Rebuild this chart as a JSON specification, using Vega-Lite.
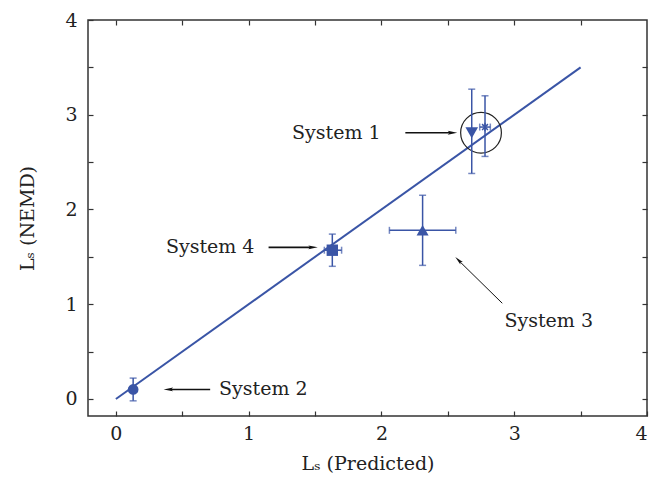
{
  "$schema": "https://vega.github.io/schema/vega-lite/v6.json",
  "width": 559,
  "height": 396,
  "autosize": {"type": "none"},
  "padding": {"left": 88, "top": 20, "right": 3, "bottom": 63},
  "background": "white",
  "config": {
    "view": {"stroke": "#333", "strokeWidth": 1.5},
    "axis": {
      "domain": false,
      "grid": false,
      "tickColor": "#333",
      "tickSize": -5,
      "tickWidth": 1.2,
      "labelFont": "DejaVu Serif",
      "labelFontSize": 19,
      "labelColor": "#222",
      "titleFont": "DejaVu Serif",
      "titleFontSize": 19,
      "titleFontWeight": "normal",
      "titleColor": "#222"
    },
    "text": {"font": "DejaVu Serif", "fontSize": 19, "color": "#222"}
  },
  "resolve": {"axis": {"x": "independent", "y": "independent"}},
  "layer": [
    {
      "data": {"values": [{"x": 0, "y": 0}, {"x": 3.5, "y": 3.5}]},
      "mark": {"type": "line", "color": "#3a55a6", "strokeWidth": 2},
      "encoding": {
        "x": {"field": "x", "type": "quantitative", "scale": {"domain": [-0.21, 4], "nice": false, "zero": false},
          "axis": {"orient": "bottom", "title": "Lₛ (Predicted)", "values": [0, 0.5, 1, 1.5, 2, 2.5, 3, 3.5, 4], "labelExpr": "datum.value % 1 === 0 ? format(datum.value, 'd') : ''", "labelPadding": 13, "titlePadding": 11}},
        "y": {"field": "y", "type": "quantitative", "scale": {"domain": [-0.18, 4], "nice": false, "zero": false},
          "axis": {"orient": "left", "title": "Lₛ (NEMD)", "values": [0, 0.5, 1, 1.5, 2, 2.5, 3, 3.5, 4], "labelExpr": "datum.value % 1 === 0 ? format(datum.value, 'd') : ''", "labelPadding": 16, "titlePadding": 27}}
      }
    },
    {
      "data": {"values": [{"system": "System 1", "x": 2.75, "y": 2.81}]},
      "mark": {"type": "point", "shape": "circle", "filled": false, "stroke": "#222", "strokeWidth": 1.2, "size": 1660, "opacity": 1},
      "encoding": {
        "x": {"field": "x", "type": "quantitative",
          "axis": {"orient": "top", "title": null, "labels": false, "values": [0, 0.5, 1, 1.5, 2, 2.5, 3, 3.5]}},
        "y": {"field": "y", "type": "quantitative",
          "axis": {"orient": "right", "title": null, "labels": false, "values": [0, 0.5, 1, 1.5, 2, 2.5, 3, 3.5]}}
      }
    },
    {
      "data": {"name": "pts", "values": [
        {"system": "System 2", "x": 0.13, "y": 0.10, "ylo": -0.02, "yhi": 0.22},
        {"system": "System 4", "x": 1.63, "y": 1.57, "ylo": 1.40, "yhi": 1.74, "xlo": 1.57, "xhi": 1.70},
        {"system": "System 3", "x": 2.31, "y": 1.78, "ylo": 1.41, "yhi": 2.15, "xlo": 2.06, "xhi": 2.56},
        {"system": "System 1a", "x": 2.68, "y": 2.81, "ylo": 2.38, "yhi": 3.27},
        {"system": "System 1b", "x": 2.78, "y": 2.87, "ylo": 2.56, "yhi": 3.20, "xlo": 2.74, "xhi": 2.82}
      ]},
      "layer": [
        {
          "mark": {"type": "rule", "color": "#3a55a6", "strokeWidth": 1.5},
          "encoding": {
            "x": {"field": "x", "type": "quantitative", "axis": null},
            "y": {"field": "ylo", "type": "quantitative", "axis": null},
            "y2": {"field": "yhi"}
          }
        },
        {
          "transform": [{"filter": "isValid(datum.xlo)"}],
          "mark": {"type": "rule", "color": "#3a55a6", "strokeWidth": 1.5},
          "encoding": {
            "x": {"field": "xlo", "type": "quantitative", "axis": null},
            "x2": {"field": "xhi"},
            "y": {"field": "y", "type": "quantitative", "axis": null}
          }
        },
        {
          "transform": [{"fold": ["ylo", "yhi"], "as": ["k", "v"]}],
          "mark": {"type": "tick", "orient": "horizontal", "color": "#3a55a6", "size": 7, "thickness": 1.5},
          "encoding": {
            "x": {"field": "x", "type": "quantitative", "axis": null},
            "y": {"field": "v", "type": "quantitative", "axis": null}
          }
        },
        {
          "transform": [{"filter": "isValid(datum.xlo)"}, {"fold": ["xlo", "xhi"], "as": ["k", "v"]}],
          "mark": {"type": "tick", "orient": "vertical", "color": "#3a55a6", "size": 7, "thickness": 1.5},
          "encoding": {
            "x": {"field": "v", "type": "quantitative", "axis": null},
            "y": {"field": "y", "type": "quantitative", "axis": null}
          }
        },
        {
          "transform": [{"filter": "datum.system !== 'System 1b'"}],
          "mark": {"type": "point", "filled": true, "color": "#3a55a6", "opacity": 1},
          "encoding": {
            "x": {"field": "x", "type": "quantitative", "axis": null},
            "y": {"field": "y", "type": "quantitative", "axis": null},
            "shape": {"field": "system", "type": "nominal", "legend": null,
              "scale": {"domain": ["System 2", "System 4", "System 3", "System 1a"], "range": ["circle", "square", "triangle-up", "triangle-down"]}},
            "size": {"field": "system", "type": "nominal", "legend": null,
              "scale": {"domain": ["System 2", "System 4", "System 3", "System 1a"], "range": [115, 160, 110, 100]}}
          }
        },
        {
          "transform": [{"filter": "datum.system === 'System 1b'"}],
          "mark": {"type": "point", "filled": false, "color": "#3a55a6", "strokeWidth": 1.5, "size": 70, "opacity": 1,
            "shape": "M-0.7,-0.7L0.7,0.7M-0.7,0.7L0.7,-0.7M0,-1L0,1"},
          "encoding": {
            "x": {"field": "x", "type": "quantitative", "axis": null},
            "y": {"field": "y", "type": "quantitative", "axis": null}
          }
        }
      ]
    },
    {
      "data": {"values": [
        {"label": "System 1", "x": 1.66, "y": 2.81},
        {"label": "System 4", "x": 0.71, "y": 1.60},
        {"label": "System 2", "x": 1.11, "y": 0.10},
        {"label": "System 3", "x": 3.26, "y": 0.82}
      ]},
      "mark": {"type": "text", "align": "center", "baseline": "middle"},
      "encoding": {
        "x": {"field": "x", "type": "quantitative", "axis": null},
        "y": {"field": "y", "type": "quantitative", "axis": null},
        "text": {"field": "label"}
      }
    },
    {
      "data": {"values": [
        {"label": "System 1", "x": 2.18, "y": 2.81, "x2": 2.52, "y2": 2.81},
        {"label": "System 4", "x": 1.15, "y": 1.60, "x2": 1.47, "y2": 1.60},
        {"label": "System 2", "x": 0.71, "y": 0.10, "x2": 0.41, "y2": 0.10}
      ]},
      "mark": {"type": "rule", "color": "#111", "strokeWidth": 1.6},
      "encoding": {
        "x": {"field": "x", "type": "quantitative", "axis": null},
        "y": {"field": "y", "type": "quantitative", "axis": null},
        "x2": {"field": "x2"},
        "y2": {"field": "y2"}
      }
    },
    {
      "data": {"values": [{"label": "System 3", "x": 2.91, "y": 1.01, "x2": 2.59, "y2": 1.45}]},
      "mark": {"type": "rule", "color": "#111", "strokeWidth": 1},
      "encoding": {
        "x": {"field": "x", "type": "quantitative", "axis": null},
        "y": {"field": "y", "type": "quantitative", "axis": null},
        "x2": {"field": "x2"},
        "y2": {"field": "y2"}
      }
    },
    {
      "data": {"values": [{"label": "System 1", "x": 2.535, "y": 2.81}, {"label": "System 4", "x": 1.485, "y": 1.60}]},
      "mark": {"type": "point", "filled": true, "color": "#111", "opacity": 1, "size": 90, "shape": "M1,0L-1,-0.4L-0.6,0L-1,0.4Z"},
      "encoding": {
        "x": {"field": "x", "type": "quantitative", "axis": null},
        "y": {"field": "y", "type": "quantitative", "axis": null}
      }
    },
    {
      "data": {"values": [{"label": "System 2", "x": 0.395, "y": 0.10}]},
      "mark": {"type": "point", "filled": true, "color": "#111", "opacity": 1, "size": 90, "angle": 180, "shape": "M1,0L-1,-0.4L-0.6,0L-1,0.4Z"},
      "encoding": {
        "x": {"field": "x", "type": "quantitative", "axis": null},
        "y": {"field": "y", "type": "quantitative", "axis": null}
      }
    },
    {
      "data": {"values": [{"label": "System 3", "x": 2.58, "y": 1.465}]},
      "mark": {"type": "point", "filled": true, "color": "#111", "opacity": 1, "size": 80, "angle": 225, "shape": "M1,0L-1,-0.4L-0.6,0L-1,0.4Z"},
      "encoding": {
        "x": {"field": "x", "type": "quantitative", "axis": null},
        "y": {"field": "y", "type": "quantitative", "axis": null}
      }
    }
  ]
}
